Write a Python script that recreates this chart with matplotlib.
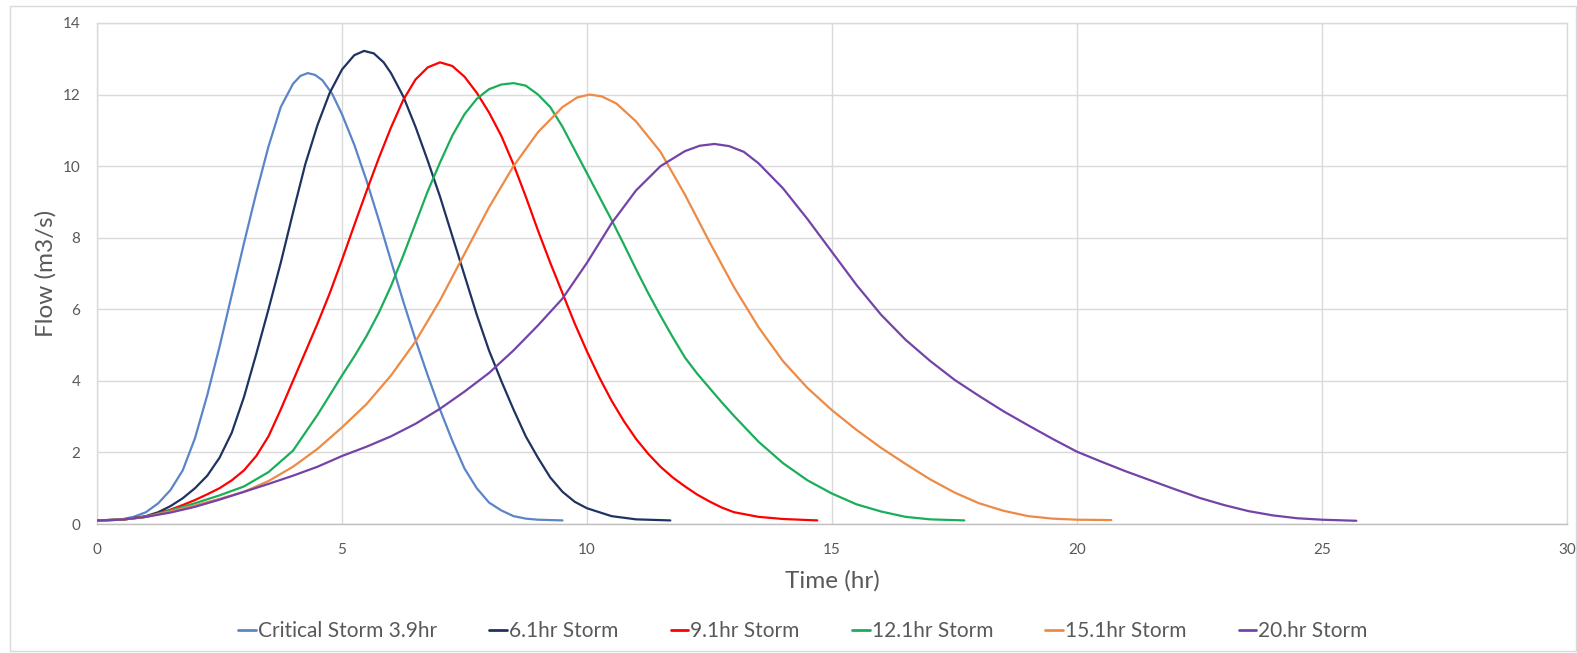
import matplotlib
matplotlib.use("Agg")
import matplotlib.pyplot as plt
from matplotlib.patches import Rectangle

plt.rcParams['font.family'] = ['Lato', 'DejaVu Sans']

# ---- data ----
series_names = ["Critical Storm 3.9hr", "6.1hr Storm", "9.1hr Storm",
                "12.1hr Storm", "15.1hr Storm", "20.hr Storm"]
series_colors = ["#5B84C9", "#1F3361", "#FF0000", "#1AAE5A", "#EE8A45", "#7443A8"]

t_crit = [0, 0.5, 0.75, 1.0, 1.25, 1.5, 1.75, 2.0, 2.25, 2.5, 2.75, 3.0, 3.25, 3.5, 3.75,
          4.0, 4.15, 4.3, 4.45, 4.6, 4.8, 5.0, 5.25, 5.5, 5.75, 6.0, 6.25, 6.5, 6.75, 7.0,
          7.25, 7.5, 7.75, 8.0, 8.25, 8.5, 8.75, 9.0, 9.5]
q_crit = [0.10, 0.13, 0.20, 0.33, 0.58, 0.95, 1.50, 2.40, 3.60, 4.95, 6.40, 7.85, 9.25, 10.55, 11.65,
          12.30, 12.52, 12.60, 12.55, 12.40, 12.02, 11.45, 10.60, 9.60, 8.50, 7.35, 6.22, 5.15, 4.15, 3.20,
          2.33, 1.55, 1.00, 0.60, 0.38, 0.22, 0.15, 0.12, 0.10]

t_6 = [0, 0.5, 1.0, 1.25, 1.5, 1.75, 2.0, 2.25, 2.5, 2.75, 3.0, 3.25, 3.5, 3.75, 4.0, 4.25,
       4.5, 4.75, 5.0, 5.25, 5.45, 5.65, 5.85, 6.0, 6.25, 6.5, 6.75, 7.0, 7.25, 7.5, 7.75, 8.0,
       8.25, 8.5, 8.75, 9.0, 9.25, 9.5, 9.75, 10.0, 10.5, 11.0, 11.7]
q_6 = [0.10, 0.12, 0.22, 0.33, 0.50, 0.72, 1.00, 1.35, 1.85, 2.55, 3.55, 4.75, 6.00, 7.30, 8.70, 10.05,
       11.15, 12.05, 12.70, 13.10, 13.22, 13.15, 12.90, 12.60, 11.95, 11.10, 10.15, 9.15, 8.05, 6.95, 5.85, 4.85,
       4.00, 3.20, 2.45, 1.85, 1.30, 0.90, 0.62, 0.44, 0.22, 0.13, 0.10]

t_9 = [0, 0.5, 1.0, 1.5, 1.75, 2.0, 2.25, 2.5, 2.75, 3.0, 3.25, 3.5, 3.75, 4.0, 4.25, 4.5,
       4.75, 5.0, 5.25, 5.5, 5.75, 6.0, 6.25, 6.5, 6.75, 7.0, 7.25, 7.5, 7.75, 8.0, 8.25, 8.5,
       8.75, 9.0, 9.25, 9.5, 9.75, 10.0, 10.25, 10.5, 10.75, 11.0, 11.25, 11.5, 11.75, 12.0,
       12.25, 12.5, 12.75, 13.0, 13.5, 14.0, 14.7]
q_9 = [0.10, 0.12, 0.20, 0.40, 0.53, 0.67, 0.83, 1.00, 1.22, 1.50, 1.90, 2.45, 3.20, 4.00, 4.80, 5.60,
       6.45, 7.38, 8.35, 9.30, 10.22, 11.08, 11.85, 12.42, 12.76, 12.90, 12.80, 12.50, 12.05, 11.50, 10.85, 10.05,
       9.15, 8.20, 7.30, 6.45, 5.60, 4.82, 4.10, 3.45, 2.88, 2.38, 1.96, 1.60, 1.30, 1.05,
       0.82, 0.63, 0.46, 0.33, 0.20, 0.14, 0.10]

t_12 = [0, 0.5, 1.0, 1.5, 2.0, 2.5, 3.0, 3.5, 4.0, 4.5, 5.0, 5.25, 5.5, 5.75, 6.0, 6.25, 6.5,
        6.75, 7.0, 7.25, 7.5, 7.75, 8.0, 8.25, 8.5, 8.75, 9.0, 9.25, 9.5, 9.75, 10.0, 10.25, 10.5,
        10.75, 11.0, 11.25, 11.5, 11.75, 12.0, 12.25, 12.5, 12.75, 13.0, 13.5, 14.0, 14.5, 15.0,
        15.5, 16.0, 16.5, 17.0, 17.7]
q_12 = [0.10, 0.12, 0.20, 0.38, 0.58, 0.80, 1.05, 1.45, 2.05, 3.05, 4.15, 4.68, 5.25, 5.90, 6.65, 7.50, 8.40,
        9.30, 10.10, 10.85, 11.45, 11.88, 12.15, 12.28, 12.32, 12.25, 12.00, 11.65, 11.10, 10.45, 9.80, 9.15, 8.50,
        7.82, 7.12, 6.45, 5.82, 5.22, 4.65, 4.20, 3.80, 3.40, 3.02, 2.30, 1.70, 1.22, 0.85,
        0.55, 0.35, 0.20, 0.13, 0.10]

t_15 = [0, 0.5, 1.0, 1.5, 2.0, 2.5, 3.0, 3.5, 4.0, 4.5, 5.0, 5.5, 6.0, 6.5, 7.0, 7.5,
        8.0, 8.5, 9.0, 9.5, 9.8, 10.05, 10.3, 10.6, 11.0, 11.5, 12.0, 12.5, 13.0, 13.5, 14.0, 14.5,
        15.0, 15.5, 16.0, 16.5, 17.0, 17.5, 18.0, 18.5, 19.0, 19.5, 20.0, 20.7]
q_15 = [0.10, 0.12, 0.20, 0.35, 0.52, 0.70, 0.90, 1.20, 1.60, 2.10, 2.70, 3.35, 4.15, 5.10, 6.25, 7.55,
        8.85, 10.00, 10.95, 11.65, 11.92, 12.00, 11.95, 11.75, 11.25, 10.40, 9.20, 7.88, 6.62, 5.50, 4.55, 3.80,
        3.18, 2.63, 2.13, 1.68, 1.25, 0.88, 0.58, 0.37, 0.22, 0.15, 0.12, 0.11]

t_20 = [0, 0.5, 1.0, 1.5, 2.0, 2.5, 3.0, 3.5, 4.0, 4.5, 5.0, 5.5, 6.0, 6.5, 7.0, 7.5,
        8.0, 8.5, 9.0, 9.5, 10.0, 10.5, 11.0, 11.5, 12.0, 12.3, 12.6, 12.9, 13.2, 13.5, 14.0, 14.5,
        15.0, 15.5, 16.0, 16.5, 17.0, 17.5, 18.0, 18.5, 19.0, 19.5, 20.0, 20.5, 21.0, 21.5,
        22.0, 22.5, 23.0, 23.5, 24.0, 24.5, 25.0, 25.7]
q_20 = [0.10, 0.12, 0.20, 0.32, 0.48, 0.68, 0.90, 1.12, 1.35, 1.60, 1.90, 2.16, 2.45, 2.80, 3.22, 3.70,
        4.22, 4.85, 5.55, 6.30, 7.30, 8.40, 9.32, 10.00, 10.42, 10.57, 10.62, 10.56, 10.40, 10.08, 9.38, 8.52,
        7.60, 6.68, 5.85, 5.15, 4.56, 4.03, 3.58, 3.15, 2.76, 2.38, 2.02, 1.74, 1.47, 1.22,
        0.97, 0.73, 0.53, 0.36, 0.24, 0.16, 0.12, 0.09]

x_ticks = [0, 5, 10, 15, 20, 25, 30]
y_ticks = [0, 2, 4, 6, 8, 10, 12, 14]
x_label = "Time (hr)"
y_label = "Flow (m3/s)"

# ---- drawing ----
W, H = 1577, 653
fig = plt.figure(figsize=(W / 100, H / 100), dpi=100)
fig.patch.set_facecolor("white")
fig.patches.append(Rectangle((10 / W, 2 / H), (W - 11) / W, (H - 8) / H,
                             transform=fig.transFigure, fill=False,
                             edgecolor="#d9d9d9", linewidth=1.0))

left, right, top, bottom = 97, 1567, 23, 524
ax = fig.add_axes([left / W, (H - bottom) / H, (right - left) / W, (bottom - top) / H])

all_t = [t_crit, t_6, t_9, t_12, t_15, t_20]
all_q = [q_crit, q_6, q_9, q_12, q_15, q_20]
for t, q, name, col in zip(all_t, all_q, series_names, series_colors):
    ax.plot(t, q, color=col, linewidth=1.6, label=name, solid_joinstyle="round",
            solid_capstyle="round", zorder=3)

ax.set_xlim(x_ticks[0], x_ticks[-1])
ax.set_ylim(y_ticks[0], y_ticks[-1])
ax.set_xticks(x_ticks)
ax.set_yticks(y_ticks)
ax.grid(True, color="#d9d9d9", linewidth=1.0, zorder=0)
ax.set_axisbelow(True)
for side in ["top", "right", "left"]:
    ax.spines[side].set_color("#d9d9d9")
    ax.spines[side].set_linewidth(1.0)
ax.spines["bottom"].set_color("#bfbfbf")
ax.spines["bottom"].set_linewidth(1.0)
ax.tick_params(axis="both", length=0, labelsize=11, labelcolor="#595959")
ax.tick_params(axis="y", pad=12)
ax.tick_params(axis="x", pad=14)

ax.set_xlabel(x_label, fontsize=17.5, color="#595959", labelpad=9)
ax.set_ylabel(y_label, fontsize=17.5, color="#595959", labelpad=4)

leg = fig.legend(loc="center", bbox_to_anchor=(803 / W, (H - 631) / H), ncol=6,
                 frameon=False, fontsize=15, handlelength=0.85, handletextpad=0.1,
                 columnspacing=2.5, labelcolor="#595959")
for line in leg.get_lines():
    line.set_linewidth(2.0)

fig.savefig("out.png", dpi=100, facecolor="white")
